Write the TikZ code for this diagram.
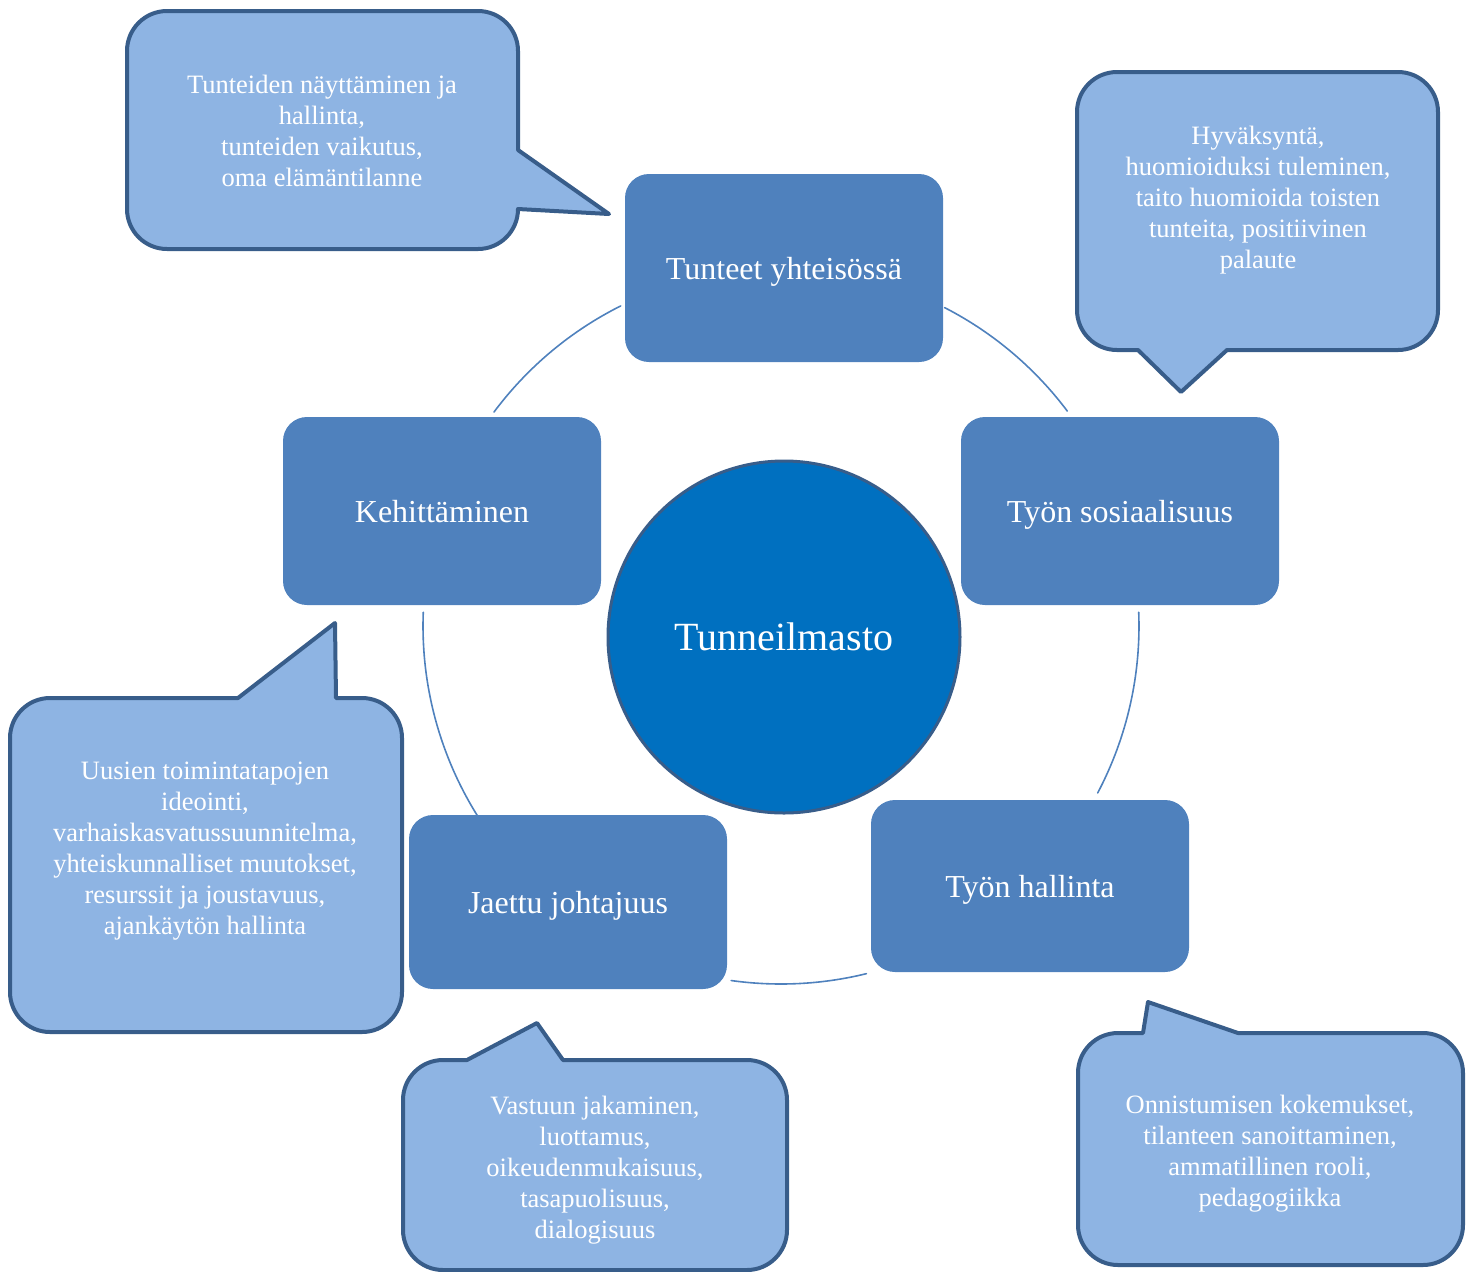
\documentclass[tikz,border=0pt]{standalone}
\usepackage{fontspec}
\setmainfont{Liberation Serif}
\definecolor{boxblue}{RGB}{79,129,189}
\definecolor{hubblue}{RGB}{0,112,192}
\definecolor{noteblue}{RGB}{142,180,227}
\definecolor{noteline}{RGB}{56,93,138}
\tikzset{
  topic/.style={fill=boxblue, text=white, rounded corners=12pt, minimum width=159pt, minimum height=94pt, inner sep=0pt, text height=11pt, text depth=0pt, font=\fontsize{16}{19}\selectfont},
  note/.style={fill=noteblue, draw=noteline, line width=2pt, line join=round},
  notetext/.style={text=white, align=center, font=\fontsize{13.25}{15.5}\selectfont},
  ringline/.style={draw=boxblue, line width=.8pt}
}
\begin{document}
\begin{tikzpicture}[x=.5pt, y=.5pt, line cap=round]
    \useasboundingbox (0,0) rectangle (1474,-1271);
    % ring behind the topics
    \coordinate (ring) at (781,-626);
    \foreach \s/\e in {62.8/36.9, 2.2/-27.8, -76.2/-98, -148.1/-182.2, 143.3/116.6}
    \draw[ringline] ([shift={(\s:358)}]ring) arc[start angle=\s, end angle=\e, radius=358];
    \node[circle, fill=hubblue, draw=noteline, line width=1.5pt, minimum size=176pt, text=white, font=\fontsize{20}{24}\selectfont] (hub) at (784,-637) {Tunneilmasto};
    \node[topic] (tunteet) at (784,-268) {Tunteet yhteisössä};
    \node[topic] (sosiaal) at (1120,-511) {Työn sosiaalisuus};
    \node[topic, minimum height=86pt] (hallinta) at (1030,-886) {Työn hallinta};
    \node[topic, minimum height=87pt] (johtaj) at (568,-902) {Jaettu johtajuus};
    \node[topic] (kehitt) at (442,-511) {Kehittäminen};
    % speech bubbles
    \draw[note] (127,-130) [rounded corners=20pt] -- (127,-11) -- (518,-11) [sharp corners] -- (518,-150) -- (609,-214) -- (518,-209) [rounded corners=20pt] -- (518,-249) -- (127,-249) -- cycle;
    \draw[note] (1077,-200) [rounded corners=20pt] -- (1077,-72) -- (1438,-72) -- (1438,-350) [sharp corners] -- (1227,-350) -- (1181,-392) -- (1138,-350) [rounded corners=20pt] -- (1077,-350) -- cycle;
    \draw[note] (10,-860) [rounded corners=20pt] -- (10,-698) [sharp corners] -- (238,-698) -- (335,-623) -- (336,-698) [rounded corners=20pt] -- (402,-698) -- (402,-1032) -- (10,-1032) -- cycle;
    \draw[note] (403,-1170) [rounded corners=20pt] -- (403,-1060) [sharp corners] -- (467,-1060) -- (537,-1023) -- (563,-1060) [rounded corners=20pt] -- (787,-1060) -- (787,-1270) -- (403,-1270) -- cycle;
    \draw[note] (1078,-1150) [rounded corners=20pt] -- (1078,-1033) [sharp corners] -- (1143,-1033) -- (1148,-1002) -- (1238,-1033) [rounded corners=20pt] -- (1463,-1033) -- (1463,-1265) -- (1078,-1265) -- cycle;
    \node[notetext] (tunteetnote) at (322,-131) {Tunteiden näyttäminen ja\\hallinta,\\tunteiden vaikutus,\\oma elämäntilanne};
    \node[notetext] (sosiaalnote) at (1258,-200) {Hyväksyntä,\\huomioiduksi tuleminen,\\taito huomioida toisten\\tunteita, positiivinen\\palaute};
    \node[notetext] (kehittnote) at (205,-851) {Uusien toimintatapojen\\ideointi,\\varhaiskasvatussuunnitelma,\\yhteiskunnalliset muutokset,\\resurssit ja joustavuus,\\ajankäytön hallinta};
    \node[notetext] (johtajnote) at (595,-1170) {Vastuun jakaminen,\\luottamus,\\oikeudenmukaisuus,\\tasapuolisuus,\\dialogisuus};
    \node[notetext] (hallintanote) at (1270,-1154) {Onnistumisen kokemukset,\\tilanteen sanoittaminen,\\ammatillinen rooli,\\pedagogiikka};
\end{tikzpicture}
\end{document}
